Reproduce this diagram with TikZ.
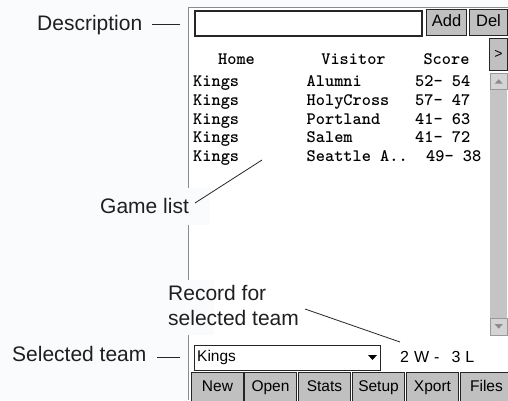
\documentclass[tikz,border=0pt]{standalone}
\usepackage{fontspec}
\setmainfont{Liberation Sans}
\definecolor{bgcol}{HTML}{FAFBFC}
\definecolor{btngray}{HTML}{C0C0C0}
\definecolor{trough}{HTML}{C4C4C4}
\definecolor{sbtn}{HTML}{D4D4D4}
\begin{document}
\begin{tikzpicture}[x=1pt,y=-1pt,
  lbl/.style={font=\fontsize{21}{25}\selectfont, text=black!88, inner sep=0pt, anchor=base west},
  ui/.style={font=\fontsize{15.5}{18}\selectfont, inner sep=0pt},
  mono/.style={font=\ttfamily\bfseries\fontsize{17.5}{20}\selectfont, inner sep=0pt, anchor=base west},
  monoc/.style={mono, anchor=base},
  btn/.style={draw=black!85, line width=1pt, fill=btngray, inner sep=0pt, anchor=north west,
              font=\fontsize{15.5}{18}\selectfont, text height=11.5pt, text depth=3.5pt},
  leader/.style={draw=black!85, line width=0.8pt},
]
\fill[bgcol] (0,0) rectangle (508,400);
\useasboundingbox (0,0) rectangle (508,400);

% screen
\fill[white] (188,7) rectangle (508,400);
\draw[black!45, line width=1pt] (188,400) -- (188,7) -- (508,7);

% label patches hiding the screen edge
\fill[bgcol] (95,188) rectangle (210,225);
\fill[bgcol] (160,280) rectangle (214,335);

% labels
\node[lbl] (desc) at (37,30) {Description};
\node[lbl] (game) at (100,213) {Game list};
\node[lbl] (rec1) at (168,300) {Record for};
\node[lbl] (rec2) at (168,325) {selected team};
\node[lbl] (sel) at (12,361) {Selected team};

% top row
\node[draw=black!85, line width=1.6pt, fill=white, anchor=north west, minimum width=227, minimum height=25, inner sep=0pt] (descbox) at (194,10) {};
\node[btn, minimum width=40, minimum height=26, font=\fontsize{16.5}{18}\selectfont] (add) at (426,9) {Add};
\node[btn, minimum width=38, minimum height=26, font=\fontsize{16.5}{18}\selectfont] (del) at (469,9) {Del};
\node[btn, minimum width=18, minimum height=32, font=\fontsize{14}{16}\selectfont] (more) at (489,38) {>};

% column headers
\node[monoc] (hh) at (236.5,64) {Home};
\node[monoc] (hv) at (353.5,64) {Visitor};
\node[monoc] (hs) at (446.5,64) {Score};

% game rows
\foreach \i/\vis/\sc/\sx in {0/Alumni/52- 54/415, 1/HolyCross/57- 47/415, 2/Portland/41- 63/415, 3/Salem/41- 72/415, 4/Seattle A../49- 38/426} {
  \node[mono] (home\i) at (193,{86.7+18.75*\i}) {Kings};
  \node[mono] (vis\i) at (306.5,{86.7+18.75*\i}) {\vis};
  \node[mono] (sc\i) at (\sx,{86.7+18.75*\i}) {\sc};
}

% scrollbar
\fill[trough] (490,89) rectangle (507,318);
\node[draw=black!40, fill=sbtn, minimum width=17, minimum height=16, inner sep=0pt, anchor=north west] (sup) at (490,73) {};
\node[draw=black!40, fill=sbtn, minimum width=17, minimum height=17, inner sep=0pt, anchor=north west] (sdown) at (490,318) {};
\fill[black!45] ([xshift=-4,yshift=-2.5]sup.center) -- ([xshift=4,yshift=-2.5]sup.center) -- ([yshift=2]sup.center) -- cycle;
\fill[black!45] ([xshift=-4,yshift=2.5]sdown.center) -- ([xshift=4,yshift=2.5]sdown.center) -- ([yshift=-2]sdown.center) -- cycle;

% combo box
\node[draw=black!85, line width=1pt, fill=white, anchor=north west, minimum width=186, minimum height=25, inner sep=0pt] (combo) at (194,345) {};
\node[ui, anchor=west] (team) at (197,357.5) {Kings};
\fill[black] (368,355) -- (377,355) -- (372.5,360) -- cycle;
\node[ui, anchor=base west, font=\fontsize{16}{18}\selectfont] (record) at (400,362) {2\hspace{5pt}W\hspace{5pt}-\hspace{12pt}3\hspace{5pt}L};

% bottom buttons
\node[btn, minimum width=52, minimum height=29] (bnew) at (191,372) {New};
\node[btn, minimum width=52, minimum height=29] (bopen) at (244,372) {Open};
\node[btn, minimum width=52, minimum height=29] (bstats) at (298,372) {Stats};
\node[btn, minimum width=52, minimum height=29] (bsetup) at (352,372) {Setup};
\node[btn, minimum width=52, minimum height=29] (bxport) at (406,372) {Xport};
\node[btn, minimum width=52, minimum height=29] (bfiles) at (460,372) {Files};

% leaders
\coordinate (d1) at (152,24);  \coordinate (d2) at (180,24);
\coordinate (g1) at (195,203); \coordinate (g2) at (262,160);
\coordinate (r1) at (305,309); \coordinate (r2) at (400,342);
\coordinate (s1) at (157,357); \coordinate (s2) at (180,357);
\draw[leader] (d1) -- (d2);
\draw[leader] (g1) -- (g2);
\draw[leader] (r1) -- (r2);
\draw[leader] (s1) -- (s2);
\end{tikzpicture}
\end{document}
